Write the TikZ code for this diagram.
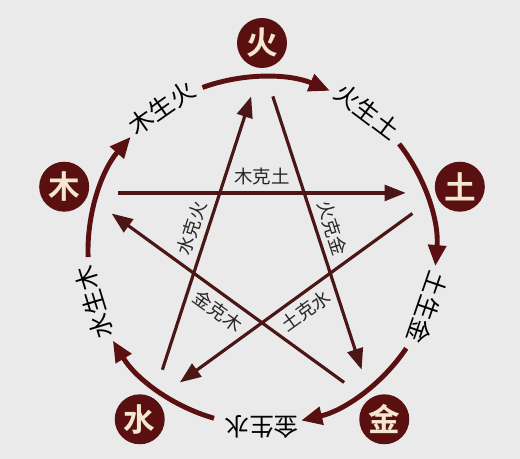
\documentclass[tikz,border=0pt]{standalone}
\usepackage{fontspec}
\newfontfamily\cjk{Noto Sans CJK SC}
\newfontfamily\cjkbold{Noto Sans CJK SC Bold}
\usetikzlibrary{arrows.meta}
\definecolor{maroon}{HTML}{5A1010}
\definecolor{darkline}{HTML}{4A1616}
\definecolor{cream}{HTML}{F4E7CF}
\definecolor{paper}{HTML}{EAEAEA}

\begin{document}
\begin{tikzpicture}[x=0.02cm, y=0.02cm,
    badge/.style={circle, fill=maroon, minimum size=1cm, inner sep=0pt, text=cream, font=\cjkbold\fontsize{18}{18}\selectfont},
    sheng/.style={draw=maroon, line width=2.8pt, -{Triangle[length=12pt, width=10pt]}},
    ke/.style={draw=darkline, line width=1.8pt, -{Triangle[length=12pt, width=9pt]}},
    shenglabel/.style={font=\cjk\fontsize{14}{14}\selectfont},
    kelabel/.style={text=black!85, font=\cjk\fontsize{10.5}{10.5}\selectfont}]
        \useasboundingbox[fill=paper] (-262,-208) rectangle (258,251);

        % five elements
        \node[badge] (huo) at (90:208) {火};
        \node[badge] (tu) at (18:208) {土};
        \node[badge] (jin) at (-54:208) {金};
        \node[badge] (shui) at (-126:208) {水};
        \node[badge] (mu) at (162:208) {木};

        % sheng cycle
        \coordinate (muhuo) at (110:174);
        \coordinate (huotu) at (38:174);
        \coordinate (tujin) at (-34:174);
        \coordinate (jinshui) at (-106:174);
        \coordinate (shuimu) at (-178:174);
        \draw[sheng] (muhuo) arc[start angle=110, end angle=67, radius=174];
        \draw[sheng] (huotu) arc[start angle=38, end angle=-5, radius=174];
        \draw[sheng] (tujin) arc[start angle=-34, end angle=-77, radius=174];
        \draw[sheng] (jinshui) arc[start angle=-106, end angle=-149, radius=174];
        \draw[sheng] (shuimu) arc[start angle=-178, end angle=-221, radius=174];
        \node[shenglabel, rotate=35] at (125:175) {木生火};
        \node[shenglabel, rotate=-37] at (53:175) {火生土};
        \node[shenglabel, rotate=-109] at (-19:175) {土生金};
        \node[shenglabel, rotate=180] at (-90:176) {金生水};
        \node[shenglabel, rotate=107] at (-163:176) {水生木};

        % ke star
        \coordinate (mu1) at (158:155);
        \coordinate (tu1) at (22:155);
        \coordinate (tu2) at (14:155);
        \coordinate (shui1) at (-122:155);
        \coordinate (shui2) at (-130:155);
        \coordinate (huo1) at (94:155);
        \coordinate (huo2) at (86:155);
        \coordinate (jin1) at (-50:155);
        \coordinate (jin2) at (-58:155);
        \coordinate (mu2) at (166:155);
        \draw[ke] (mu1) -- (tu1);
        \draw[ke] (tu2) -- (shui1);
        \draw[ke] (shui2) -- (huo1);
        \draw[ke] (huo2) -- (jin1);
        \draw[ke] (jin2) -- (mu2);
        \node[kelabel] at (90:74) {木克土};
        \node[kelabel, rotate=-72] at (18:74) {火克金};
        \node[kelabel, rotate=36] at (-54:74) {土克水};
        \node[kelabel, rotate=-36] at (-126:74) {金克木};
        \node[kelabel, rotate=72] at (162:74) {水克火};
\end{tikzpicture}
\end{document}
